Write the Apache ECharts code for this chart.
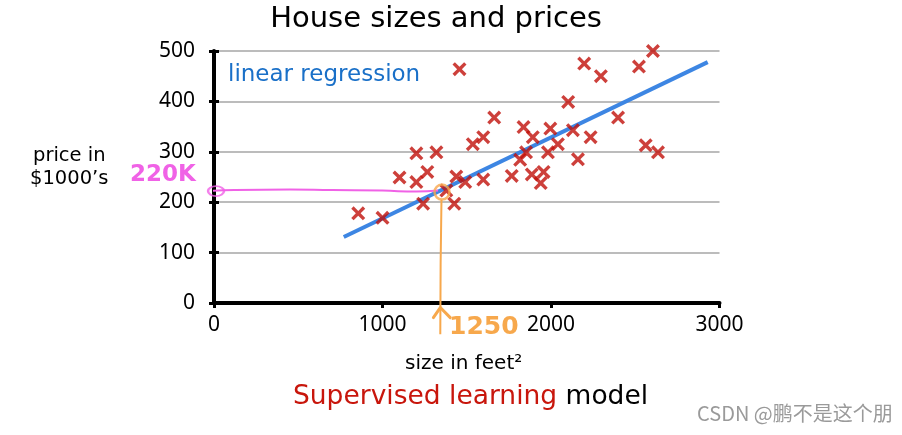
<!DOCTYPE html>
<html>
<head>
<meta charset="utf-8">
<script src="https://cdn.jsdelivr.net/npm/echarts@6/dist/echarts.min.js"></script>
<style>
html,body{margin:0;padding:0;background:#fff;}
#chart{width:902px;height:435px;}
</style>
</head>
<body>
<div id="chart"></div>
<script>
// ---- data ----
var houseSize = [856, 1000, 1101, 1201, 1320, 1266, 1201, 1241, 1379, 1426, 1438, 1491, 1457, 1536, 1598, 1598, 1663, 1767, 1817, 1837, 1852, 1892, 1886, 1956, 1939, 1982, 1996, 2041, 2102, 2130, 2160, 2235, 2197, 2296, 2398, 2522, 2605, 2562, 2635];
var housePrice = [178, 169, 249, 297, 299, 260, 240, 197, 223, 197, 251, 240, 464, 315, 329, 245, 368, 252, 284, 349, 299, 329, 255, 260, 238, 299, 346, 315, 399, 343, 285, 329, 475, 450, 368, 469, 500, 313, 299];
var regX = [770, 2930];
var regY = [131, 478];
var pinkX = [-50, 120, 450, 700, 1000, 1200, 1330];
var pinkY = [222, 224, 225, 224, 223, 221, 223];
var orangeCircleX = [1353];
var orangeCircleY = [220];
var pinkMarkX = [12];
var pinkMarkY = [222];
var orangeLineX = [1350, 1345, 1343];
var orangeLineY = [205, 80, -62];
var arrowX = [1302, 1343, 1402];
var arrowY = [-29, -9, -29];
var xTicks = [0, 1000, 2000, 3000];
var yTicks = [0, 100, 200, 300, 400, 500];

function zip(a, b) { return a.map(function (v, i) { return [v, b[i]]; }); }

var crossPath = 'path://M0,3.4 L3.4,0 L10,6.6 L16.6,0 L20,3.4 L13.4,10 L20,16.6 L16.6,20 L10,13.4 L3.4,20 L0,16.6 L6.6,10 Z';

var chart = echarts.init(document.getElementById('chart'));
chart.setOption({
  animation: false,
  backgroundColor: '#fff',
  grid: { left: 214, right: 182.5, top: 51, bottom: 132 },
  xAxis: {
    type: 'value', min: xTicks[0], max: xTicks[xTicks.length - 1], interval: 1000,
    axisLine: { lineStyle: { color: '#000', width: 4 } },
    axisTick: { show: true, length: 5, lineStyle: { color: '#000', width: 3 } },
    axisLabel: { color: '#000', fontFamily: 'Noto Sans', fontSize: 21, margin: 12, formatter: function (v) { return String(v); } },
    splitLine: { show: false }
  },
  yAxis: [{
    type: 'value', min: yTicks[0], max: yTicks[yTicks.length - 1], interval: 100,
    axisLine: { show: true, lineStyle: { color: '#000', width: 4 } },
    axisTick: { show: true, length: 5, lineStyle: { color: '#000', width: 3 } },
    axisLabel: { color: '#000', fontFamily: 'Noto Sans', fontSize: 21, margin: 19, formatter: function (v) { return String(v); } },
    splitLine: { show: true, lineStyle: { color: '#a6a6a6', width: 1.5 } }
  }, {
    type: 'value', min: yTicks[0], max: yTicks[yTicks.length - 1], interval: 100, position: 'left',
    axisLine: { show: false },
    axisTick: { show: true, inside: true, length: 5, lineStyle: { color: '#000', width: 3 } },
    axisLabel: { show: false },
    splitLine: { show: false }
  }],
  series: [
    {
      type: 'line', data: zip(pinkX, pinkY), clip: false, smooth: true, symbol: 'none',
      lineStyle: { color: '#f062e6', width: 2 }, z: 3
    },
    {
      type: 'scatter', data: zip(pinkMarkX, pinkMarkY), clip: false, symbol: 'circle', symbolSize: [16, 10],
      itemStyle: { color: 'rgba(0,0,0,0)', borderColor: '#f062e6', borderWidth: 2 }, z: 4
    },
    {
      type: 'line', data: zip(regX, regY), symbol: 'none',
      lineStyle: { color: '#3d86e3', width: 4 }, z: 2
    },
    {
      type: 'scatter', data: zip(houseSize, housePrice), symbol: crossPath, symbolSize: 14,
      itemStyle: { color: '#c0100a' }, z: 5
    },
    {
      type: 'scatter', data: zip(orangeCircleX, orangeCircleY), symbol: 'circle', symbolSize: 15,
      itemStyle: { color: 'rgba(0,0,0,0)', borderColor: '#f7a84c', borderWidth: 2.5 }, z: 6
    },
    {
      type: 'line', data: zip(orangeLineX, orangeLineY), clip: false, smooth: true, symbol: 'none',
      lineStyle: { color: '#f7a84c', width: 2 }, z: 6
    },
    {
      type: 'line', data: zip(arrowX, arrowY), clip: false, symbol: 'none',
      lineStyle: { color: '#f7a84c', width: 3, cap: 'round', join: 'round' }, z: 6
    }
  ],
  graphic: [
    { type: 'text', x: 436, y: 5, style: { text: 'House sizes and prices', align: 'center', fill: '#000', font: '29px "DejaVu Sans"' } },
    { type: 'text', x: 228, y: 64, style: { text: 'linear regression', fill: '#1a70c8', font: '23px "DejaVu Sans"' } },
    { type: 'text', x: 33, y: 146, style: { text: 'price in', fill: '#000', font: '19.5px "DejaVu Sans"' } },
    { type: 'text', x: 30, y: 169, style: { text: '$1000\u2019s', fill: '#000', font: '19.5px "DejaVu Sans"' } },
    { type: 'text', x: 405, y: 354, style: { text: 'size in feet\u00b2', fill: '#000', font: '20px "DejaVu Sans"' } },
    { type: 'text', x: 293, y: 384, style: { rich: { r: { fill: '#c8160c', font: '26.5px "DejaVu Sans"' }, k: { fill: '#000', font: '26.5px "DejaVu Sans"' } }, text: '{r|Supervised learning }{k|model}' } },
    { type: 'text', x: 130, y: 164, style: { text: '220K', fill: '#f062e6', font: 'bold 23px "DejaVu Sans"' } },
    { type: 'text', x: 449, y: 315, style: { text: '1250', fill: '#f7a84c', font: 'bold 25px "DejaVu Sans"' } },
    { type: 'text', x: 697, y: 403, style: { text: 'CSDN @\u9e4f\u4e0d\u662f\u8fd9\u4e2a\u670b', fill: '#9a9a9a', font: '20px "Noto Sans CJK SC"' } }
  ]
});
</script>
</body>
</html>
